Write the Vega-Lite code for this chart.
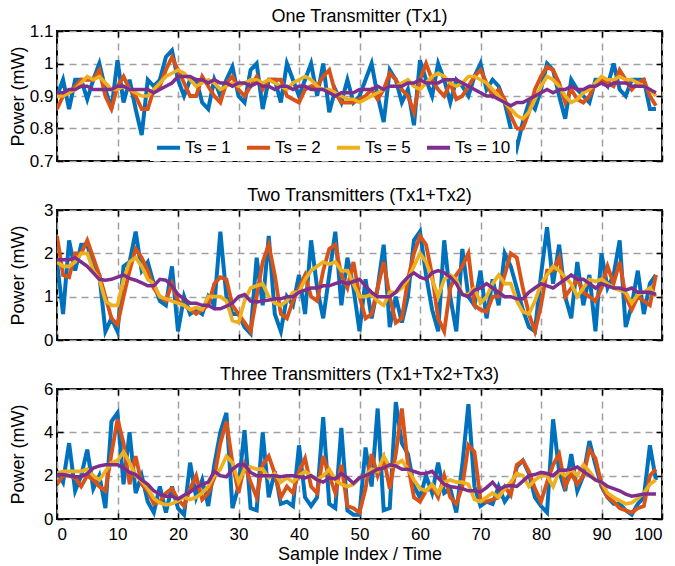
{
"$schema": "https://vega.github.io/schema/vega-lite/v6.json",
"padding": {"left": 7, "top": 7, "right": 0, "bottom": 0},
"config": {
  "font": "Liberation Sans",
  "view": {"stroke": "black", "strokeWidth": 2},
  "axis": {"domain": false, "tickColor": "black", "tickSize": -6, "tickWidth": 1.5, "labelFontSize": 17, "labelColor": "black", "titleFontSize": 18, "titleFontWeight": "normal", "titleColor": "black", "gridColor": "#a0a0a0", "gridDash": [7, 5], "gridWidth": 1.5, "labelPadding": 10},
  "title": {"fontSize": 18, "fontWeight": "normal", "offset": -4, "color": "black"},
  "concat": {"spacing": 16}
},
"datasets": {
"p1": [
{"x":0,"1":0.90,"2":0.86,"5":0.90,"10":0.91},
{"x":1,"1":0.95,"2":0.90,"5":0.90,"10":0.91},
{"x":2,"1":0.86,"2":0.91,"5":0.91,"10":0.92},
{"x":3,"1":0.95,"2":0.93,"5":0.92,"10":0.92},
{"x":4,"1":0.95,"2":0.95,"5":0.94,"10":0.93},
{"x":5,"1":0.89,"2":0.95,"5":0.96,"10":0.93},
{"x":6,"1":0.95,"2":0.95,"5":0.95,"10":0.92},
{"x":7,"1":1.00,"2":0.98,"5":0.96,"10":0.92},
{"x":8,"1":0.92,"2":0.90,"5":0.94,"10":0.92},
{"x":9,"1":0.86,"2":0.86,"5":0.92,"10":0.92},
{"x":10,"1":1.01,"2":0.93,"5":0.92,"10":0.93},
{"x":11,"1":0.88,"2":0.96,"5":0.93,"10":0.93},
{"x":12,"1":0.95,"2":0.92,"5":0.92,"10":0.92},
{"x":13,"1":0.86,"2":0.90,"5":0.91,"10":0.92},
{"x":14,"1":0.78,"2":0.86,"5":0.90,"10":0.92},
{"x":15,"1":0.95,"2":0.86,"5":0.90,"10":0.92},
{"x":16,"1":0.93,"2":0.92,"5":0.92,"10":0.91},
{"x":17,"1":0.95,"2":0.93,"5":0.94,"10":0.92},
{"x":18,"1":1.02,"2":0.98,"5":0.96,"10":0.93},
{"x":19,"1":1.04,"2":1.02,"5":0.97,"10":0.94},
{"x":20,"1":0.95,"2":0.98,"5":0.98,"10":0.96},
{"x":21,"1":0.90,"2":0.94,"5":0.97,"10":0.96},
{"x":22,"1":0.95,"2":0.90,"5":0.95,"10":0.96},
{"x":23,"1":0.95,"2":0.90,"5":0.93,"10":0.95},
{"x":24,"1":0.88,"2":0.96,"5":0.94,"10":0.95},
{"x":25,"1":0.86,"2":0.93,"5":0.95,"10":0.94},
{"x":26,"1":0.95,"2":0.90,"5":0.94,"10":0.95},
{"x":27,"1":0.90,"2":0.88,"5":0.92,"10":0.94},
{"x":28,"1":0.95,"2":0.94,"5":0.93,"10":0.94},
{"x":29,"1":0.99,"2":0.96,"5":0.94,"10":0.93},
{"x":30,"1":0.90,"2":0.92,"5":0.93,"10":0.94},
{"x":31,"1":0.88,"2":0.90,"5":0.94,"10":0.94},
{"x":32,"1":0.98,"2":0.93,"5":0.95,"10":0.93},
{"x":33,"1":1.00,"2":0.96,"5":0.95,"10":0.94},
{"x":34,"1":0.86,"2":0.92,"5":0.94,"10":0.93},
{"x":35,"1":0.95,"2":0.95,"5":0.95,"10":0.93},
{"x":36,"1":0.95,"2":0.95,"5":0.94,"10":0.92},
{"x":37,"1":0.88,"2":0.95,"5":0.93,"10":0.93},
{"x":38,"1":1.00,"2":0.90,"5":0.92,"10":0.93},
{"x":39,"1":0.95,"2":0.89,"5":0.94,"10":0.92},
{"x":40,"1":0.90,"2":0.88,"5":0.95,"10":0.93},
{"x":41,"1":0.95,"2":0.92,"5":0.96,"10":0.93},
{"x":42,"1":1.00,"2":0.93,"5":0.95,"10":0.92},
{"x":43,"1":0.90,"2":0.93,"5":0.93,"10":0.92},
{"x":44,"1":1.00,"2":0.96,"5":0.92,"10":0.92},
{"x":45,"1":0.85,"2":0.98,"5":0.92,"10":0.91},
{"x":46,"1":0.92,"2":0.91,"5":0.91,"10":0.90},
{"x":47,"1":0.88,"2":0.88,"5":0.90,"10":0.91},
{"x":48,"1":0.95,"2":0.88,"5":0.89,"10":0.91},
{"x":49,"1":0.88,"2":0.88,"5":0.89,"10":0.91},
{"x":50,"1":0.90,"2":0.89,"5":0.88,"10":0.92},
{"x":51,"1":0.95,"2":0.90,"5":0.89,"10":0.92},
{"x":52,"1":1.00,"2":0.92,"5":0.90,"10":0.92},
{"x":53,"1":0.90,"2":0.89,"5":0.91,"10":0.93},
{"x":54,"1":0.82,"2":0.92,"5":0.92,"10":0.92},
{"x":55,"1":0.98,"2":0.97,"5":0.93,"10":0.93},
{"x":56,"1":0.95,"2":0.95,"5":0.93,"10":0.93},
{"x":57,"1":0.88,"2":0.92,"5":0.94,"10":0.93},
{"x":58,"1":0.92,"2":0.90,"5":0.95,"10":0.94},
{"x":59,"1":0.81,"2":0.85,"5":0.93,"10":0.94},
{"x":60,"1":1.01,"2":0.95,"5":0.92,"10":0.95},
{"x":61,"1":0.95,"2":1.00,"5":0.94,"10":0.94},
{"x":62,"1":0.90,"2":0.95,"5":0.96,"10":0.94},
{"x":63,"1":1.00,"2":0.92,"5":0.97,"10":0.94},
{"x":64,"1":0.95,"2":0.90,"5":0.96,"10":0.95},
{"x":65,"1":0.88,"2":0.94,"5":0.94,"10":0.95},
{"x":66,"1":0.95,"2":0.89,"5":0.93,"10":0.95},
{"x":67,"1":0.93,"2":0.90,"5":0.94,"10":0.94},
{"x":68,"1":0.90,"2":0.93,"5":0.96,"10":0.93},
{"x":69,"1":0.96,"2":0.96,"5":0.96,"10":0.92},
{"x":70,"1":1.00,"2":0.98,"5":0.95,"10":0.91},
{"x":71,"1":0.92,"2":0.94,"5":0.94,"10":0.90},
{"x":72,"1":0.95,"2":0.90,"5":0.92,"10":0.90},
{"x":73,"1":0.93,"2":0.92,"5":0.90,"10":0.89},
{"x":74,"1":0.88,"2":0.89,"5":0.88,"10":0.88},
{"x":75,"1":0.80,"2":0.84,"5":0.86,"10":0.87},
{"x":76,"1":0.74,"2":0.80,"5":0.84,"10":0.88},
{"x":77,"1":0.82,"2":0.80,"5":0.83,"10":0.88},
{"x":78,"1":0.88,"2":0.85,"5":0.85,"10":0.89},
{"x":79,"1":0.86,"2":0.92,"5":0.89,"10":0.90},
{"x":80,"1":0.92,"2":0.96,"5":0.93,"10":0.91},
{"x":81,"1":1.00,"2":0.99,"5":0.96,"10":0.92},
{"x":82,"1":0.98,"2":0.98,"5":0.95,"10":0.91},
{"x":83,"1":0.90,"2":0.94,"5":0.93,"10":0.92},
{"x":84,"1":0.83,"2":0.88,"5":0.90,"10":0.92},
{"x":85,"1":0.95,"2":0.92,"5":0.88,"10":0.93},
{"x":86,"1":0.92,"2":0.89,"5":0.89,"10":0.92},
{"x":87,"1":0.90,"2":0.88,"5":0.91,"10":0.92},
{"x":88,"1":0.88,"2":0.90,"5":0.92,"10":0.93},
{"x":89,"1":0.95,"2":0.94,"5":0.94,"10":0.93},
{"x":90,"1":0.95,"2":0.95,"5":0.96,"10":0.94},
{"x":91,"1":0.93,"2":0.94,"5":0.95,"10":0.93},
{"x":92,"1":1.00,"2":0.93,"5":0.95,"10":0.94},
{"x":93,"1":0.92,"2":0.98,"5":0.96,"10":0.94},
{"x":94,"1":0.90,"2":0.95,"5":0.95,"10":0.94},
{"x":95,"1":0.95,"2":0.92,"5":0.95,"10":0.93},
{"x":96,"1":0.95,"2":0.94,"5":0.94,"10":0.93},
{"x":97,"1":0.95,"2":0.95,"5":0.93,"10":0.93},
{"x":98,"1":0.86,"2":0.90,"5":0.92,"10":0.92},
{"x":99,"1":0.86,"2":0.87,"5":0.90,"10":0.91}
],
"p2": [
{"x":0,"1":1.8,"2":2.4,"5":1.8,"10":1.85},
{"x":1,"1":0.6,"2":1.5,"5":1.7,"10":1.85},
{"x":2,"1":2.3,"2":1.45,"5":1.7,"10":1.85},
{"x":3,"1":1.6,"2":2.0,"5":1.8,"10":1.9},
{"x":4,"1":2.2,"2":2.0,"5":2.0,"10":1.8},
{"x":5,"1":2.2,"2":2.3,"5":2.0,"10":1.7},
{"x":6,"1":1.7,"2":1.9,"5":1.6,"10":1.55},
{"x":7,"1":1.5,"2":1.5,"5":1.4,"10":1.4},
{"x":8,"1":0.2,"2":1.0,"5":0.9,"10":1.38},
{"x":9,"1":0.5,"2":0.5,"5":0.8,"10":1.4},
{"x":10,"1":0.2,"2":0.35,"5":0.8,"10":1.45},
{"x":11,"1":1.7,"2":1.0,"5":1.4,"10":1.5},
{"x":12,"1":1.8,"2":1.6,"5":1.8,"10":1.42},
{"x":13,"1":2.5,"2":2.1,"5":1.9,"10":1.38},
{"x":14,"1":1.6,"2":1.9,"5":1.7,"10":1.32},
{"x":15,"1":1.8,"2":1.6,"5":1.4,"10":1.25},
{"x":16,"1":1.3,"2":1.2,"5":1.3,"10":1.25},
{"x":17,"1":0.9,"2":1.0,"5":1.0,"10":1.4},
{"x":18,"1":0.8,"2":0.9,"5":0.95,"10":1.38},
{"x":19,"1":1.7,"2":1.3,"5":0.9,"10":1.25},
{"x":20,"1":0.2,"2":0.9,"5":0.85,"10":1.05},
{"x":21,"1":1.0,"2":0.8,"5":0.8,"10":0.95},
{"x":22,"1":0.6,"2":0.7,"5":0.7,"10":0.85},
{"x":23,"1":0.7,"2":0.6,"5":0.75,"10":0.85},
{"x":24,"1":0.6,"2":0.7,"5":0.7,"10":0.8},
{"x":25,"1":1.0,"2":0.8,"5":1.0,"10":0.8},
{"x":26,"1":0.8,"2":1.3,"5":1.0,"10":0.72},
{"x":27,"1":2.5,"2":1.45,"5":1.0,"10":0.72},
{"x":28,"1":1.0,"2":1.4,"5":0.9,"10":0.78},
{"x":29,"1":0.6,"2":0.8,"5":0.45,"10":0.85},
{"x":30,"1":0.6,"2":0.6,"5":0.4,"10":1.0},
{"x":31,"1":0.3,"2":0.4,"5":0.9,"10":1.05},
{"x":32,"1":0.15,"2":0.2,"5":1.2,"10":0.9},
{"x":33,"1":1.9,"2":1.0,"5":1.25,"10":0.88},
{"x":34,"1":0.8,"2":1.8,"5":1.3,"10":0.9},
{"x":35,"1":2.4,"2":2.2,"5":1.0,"10":0.92},
{"x":36,"1":0.6,"2":1.5,"5":0.85,"10":0.95},
{"x":37,"1":0.2,"2":0.6,"5":0.8,"10":0.95},
{"x":38,"1":1.0,"2":0.5,"5":0.9,"10":1.0},
{"x":39,"1":0.8,"2":0.9,"5":1.1,"10":1.0},
{"x":40,"1":1.5,"2":1.2,"5":1.1,"10":1.1},
{"x":41,"1":0.6,"2":1.5,"5":1.4,"10":1.15},
{"x":42,"1":2.3,"2":1.0,"5":1.6,"10":1.2},
{"x":43,"1":1.2,"2":0.9,"5":1.7,"10":1.2},
{"x":44,"1":0.5,"2":1.6,"5":1.8,"10":1.25},
{"x":45,"1":1.5,"2":2.1,"5":1.75,"10":1.25},
{"x":46,"1":2.5,"2":2.2,"5":1.8,"10":1.3},
{"x":47,"1":0.8,"2":1.5,"5":1.6,"10":1.35},
{"x":48,"1":1.9,"2":1.2,"5":1.6,"10":1.3},
{"x":49,"1":1.2,"2":1.8,"5":1.3,"10":1.35},
{"x":50,"1":0.2,"2":1.0,"5":1.0,"10":1.4},
{"x":51,"1":1.4,"2":0.5,"5":1.0,"10":1.25},
{"x":52,"1":0.5,"2":0.6,"5":1.05,"10":1.1},
{"x":53,"1":1.2,"2":1.2,"5":0.9,"10":1.0},
{"x":54,"1":2.2,"2":1.8,"5":0.8,"10":1.0},
{"x":55,"1":0.3,"2":1.0,"5":1.1,"10":1.0},
{"x":56,"1":1.0,"2":0.4,"5":1.1,"10":1.1},
{"x":57,"1":0.4,"2":0.5,"5":1.2,"10":1.3},
{"x":58,"1":1.0,"2":1.4,"5":1.4,"10":1.45},
{"x":59,"1":2.3,"2":2.0,"5":1.7,"10":1.55},
{"x":60,"1":2.5,"2":2.4,"5":2.0,"10":1.45},
{"x":61,"1":1.5,"2":2.2,"5":1.8,"10":1.4},
{"x":62,"1":0.7,"2":1.5,"5":1.4,"10":1.55},
{"x":63,"1":0.2,"2":0.5,"5":1.0,"10":1.6},
{"x":64,"1":2.3,"2":0.2,"5":1.4,"10":1.55},
{"x":65,"1":1.0,"2":1.2,"5":1.5,"10":1.45},
{"x":66,"1":0.2,"2":1.5,"5":1.4,"10":1.3},
{"x":67,"1":2.1,"2":1.7,"5":1.05,"10":1.05},
{"x":68,"1":1.0,"2":2.0,"5":1.05,"10":1.0},
{"x":69,"1":0.8,"2":0.8,"5":1.2,"10":1.15},
{"x":70,"1":1.6,"2":0.7,"5":0.85,"10":1.2},
{"x":71,"1":0.5,"2":0.65,"5":1.0,"10":1.3},
{"x":72,"1":1.4,"2":1.0,"5":1.3,"10":1.2},
{"x":73,"1":0.8,"2":1.0,"5":1.5,"10":1.1},
{"x":74,"1":2.0,"2":1.5,"5":1.3,"10":1.0},
{"x":75,"1":1.7,"2":2.0,"5":1.3,"10":1.0},
{"x":76,"1":1.2,"2":1.9,"5":0.9,"10":0.95},
{"x":77,"1":0.7,"2":1.2,"5":0.65,"10":0.95},
{"x":78,"1":0.3,"2":0.6,"5":0.6,"10":1.1},
{"x":79,"1":0.2,"2":0.2,"5":0.9,"10":1.2},
{"x":80,"1":1.5,"2":0.8,"5":1.3,"10":1.3},
{"x":81,"1":2.6,"2":1.6,"5":1.5,"10":1.25},
{"x":82,"1":1.3,"2":1.6,"5":1.7,"10":1.2},
{"x":83,"1":2.2,"2":1.9,"5":1.6,"10":1.3},
{"x":84,"1":1.0,"2":1.0,"5":1.45,"10":1.4},
{"x":85,"1":0.5,"2":1.2,"5":1.3,"10":1.5},
{"x":86,"1":1.8,"2":1.4,"5":1.0,"10":1.4},
{"x":87,"1":0.8,"2":1.1,"5":1.2,"10":1.4},
{"x":88,"1":1.5,"2":1.0,"5":1.4,"10":1.3},
{"x":89,"1":0.2,"2":0.9,"5":1.35,"10":1.2},
{"x":90,"1":2.0,"2":1.2,"5":1.4,"10":1.3},
{"x":91,"1":1.2,"2":1.7,"5":1.3,"10":1.25},
{"x":92,"1":1.5,"2":1.3,"5":1.2,"10":1.2},
{"x":93,"1":2.3,"2":1.8,"5":1.15,"10":1.2},
{"x":94,"1":0.3,"2":1.0,"5":1.1,"10":1.15},
{"x":95,"1":0.8,"2":0.7,"5":0.85,"10":1.2},
{"x":96,"1":1.6,"2":1.0,"5":1.05,"10":1.1},
{"x":97,"1":0.6,"2":0.9,"5":1.1,"10":1.1},
{"x":98,"1":1.3,"2":0.8,"5":1.2,"10":1.1},
{"x":99,"1":1.5,"2":1.5,"5":1.0,"10":1.05}
],
"p3": [
{"x":0,"1":2.2,"2":1.6,"5":2.1,"10":2.05},
{"x":1,"1":1.7,"2":2.0,"5":2.2,"10":2.05},
{"x":2,"1":3.5,"2":2.0,"5":2.2,"10":2.0},
{"x":3,"1":1.3,"2":1.9,"5":2.2,"10":1.95},
{"x":4,"1":2.0,"2":1.5,"5":2.2,"10":1.95},
{"x":5,"1":3.2,"2":2.0,"5":2.3,"10":2.1},
{"x":6,"1":1.4,"2":1.8,"5":2.0,"10":2.35},
{"x":7,"1":2.0,"2":1.5,"5":1.8,"10":2.45},
{"x":8,"1":0.5,"2":1.3,"5":2.2,"10":2.5},
{"x":9,"1":4.5,"2":3.0,"5":2.6,"10":2.5},
{"x":10,"1":4.9,"2":4.6,"5":2.7,"10":2.5},
{"x":11,"1":1.6,"2":3.5,"5":3.1,"10":2.35},
{"x":12,"1":4.0,"2":1.6,"5":2.6,"10":2.15},
{"x":13,"1":1.2,"2":2.9,"5":2.0,"10":2.05},
{"x":14,"1":2.0,"2":1.6,"5":1.75,"10":1.8},
{"x":15,"1":0.8,"2":1.3,"5":1.4,"10":1.6},
{"x":16,"1":0.3,"2":0.7,"5":0.95,"10":1.3},
{"x":17,"1":1.5,"2":0.8,"5":0.75,"10":1.15},
{"x":18,"1":0.3,"2":1.2,"5":0.65,"10":1.05},
{"x":19,"1":1.5,"2":1.4,"5":0.7,"10":1.05},
{"x":20,"1":0.5,"2":0.9,"5":0.85,"10":0.92},
{"x":21,"1":0.2,"2":0.6,"5":1.0,"10":1.1},
{"x":22,"1":2.6,"2":1.4,"5":0.9,"10":1.25},
{"x":23,"1":1.0,"2":2.0,"5":1.0,"10":1.45},
{"x":24,"1":1.8,"2":0.9,"5":1.2,"10":1.6},
{"x":25,"1":0.6,"2":1.2,"5":1.5,"10":1.7},
{"x":26,"1":2.5,"2":1.9,"5":2.0,"10":2.2},
{"x":27,"1":4.0,"2":3.5,"5":2.3,"10":2.0},
{"x":28,"1":4.9,"2":4.5,"5":2.9,"10":1.95},
{"x":29,"1":0.5,"2":2.6,"5":2.6,"10":2.3},
{"x":30,"1":1.5,"2":1.2,"5":1.7,"10":2.5},
{"x":31,"1":4.1,"2":2.5,"5":2.3,"10":2.5},
{"x":32,"1":0.5,"2":1.7,"5":2.4,"10":2.15},
{"x":33,"1":0.4,"2":1.0,"5":2.3,"10":2.0},
{"x":34,"1":4.0,"2":2.5,"5":2.3,"10":2.0},
{"x":35,"1":1.0,"2":2.9,"5":1.9,"10":2.0},
{"x":36,"1":2.2,"2":2.1,"5":2.1,"10":2.0},
{"x":37,"1":0.7,"2":1.0,"5":1.7,"10":1.95},
{"x":38,"1":0.8,"2":1.5,"5":1.9,"10":2.0},
{"x":39,"1":0.6,"2":1.2,"5":1.7,"10":2.0},
{"x":40,"1":3.4,"2":2.2,"5":2.0,"10":1.95},
{"x":41,"1":1.0,"2":2.8,"5":2.2,"10":1.9},
{"x":42,"1":0.6,"2":1.5,"5":2.0,"10":2.0},
{"x":43,"1":1.0,"2":1.2,"5":1.8,"10":1.8},
{"x":44,"1":4.7,"2":2.9,"5":2.0,"10":1.7},
{"x":45,"1":0.7,"2":2.0,"5":2.3,"10":1.9},
{"x":46,"1":0.5,"2":1.2,"5":1.8,"10":1.85},
{"x":47,"1":4.2,"2":2.5,"5":1.6,"10":2.1},
{"x":48,"1":0.4,"2":0.6,"5":1.5,"10":1.9},
{"x":49,"1":0.2,"2":0.5,"5":1.6,"10":1.65},
{"x":50,"1":0.2,"2":0.3,"5":1.9,"10":1.9},
{"x":51,"1":3.3,"2":1.4,"5":2.0,"10":2.0},
{"x":52,"1":1.5,"2":3.0,"5":2.3,"10":2.15},
{"x":53,"1":5.1,"2":2.0,"5":2.2,"10":2.3},
{"x":54,"1":0.4,"2":2.8,"5":2.9,"10":2.35},
{"x":55,"1":0.5,"2":1.4,"5":2.4,"10":2.5},
{"x":56,"1":5.4,"2":3.0,"5":2.5,"10":2.45},
{"x":57,"1":3.5,"2":5.1,"5":2.7,"10":2.3},
{"x":58,"1":3.0,"2":2.5,"5":2.3,"10":2.3},
{"x":59,"1":1.5,"2":1.0,"5":1.8,"10":2.2},
{"x":60,"1":1.0,"2":0.8,"5":1.4,"10":2.1},
{"x":61,"1":2.0,"2":1.3,"5":1.3,"10":2.1},
{"x":62,"1":1.2,"2":1.5,"5":1.6,"10":2.2},
{"x":63,"1":2.6,"2":1.0,"5":1.2,"10":1.9},
{"x":64,"1":1.2,"2":2.0,"5":1.7,"10":1.6},
{"x":65,"1":1.4,"2":1.0,"5":1.8,"10":1.5},
{"x":66,"1":0.3,"2":0.7,"5":1.7,"10":1.45},
{"x":67,"1":2.5,"2":1.5,"5":1.7,"10":1.4},
{"x":68,"1":5.3,"2":3.4,"5":1.6,"10":1.3},
{"x":69,"1":1.5,"2":3.1,"5":0.9,"10":1.3},
{"x":70,"1":0.6,"2":0.9,"5":0.8,"10":1.25},
{"x":71,"1":0.8,"2":0.8,"5":1.0,"10":1.45},
{"x":72,"1":0.7,"2":0.9,"5":1.2,"10":1.7},
{"x":73,"1":1.5,"2":1.0,"5":1.0,"10":1.35},
{"x":74,"1":0.8,"2":1.5,"5":1.4,"10":1.5},
{"x":75,"1":1.2,"2":1.1,"5":1.7,"10":1.55},
{"x":76,"1":2.4,"2":2.5,"5":2.1,"10":1.5},
{"x":77,"1":2.7,"2":2.7,"5":2.0,"10":1.75},
{"x":78,"1":2.1,"2":2.2,"5":1.5,"10":2.0},
{"x":79,"1":1.0,"2":1.4,"5":1.8,"10":2.05},
{"x":80,"1":0.6,"2":0.8,"5":2.0,"10":2.15},
{"x":81,"1":0.3,"2":1.7,"5":2.0,"10":2.1},
{"x":82,"1":4.6,"2":2.5,"5":1.5,"10":2.0},
{"x":83,"1":2.2,"2":3.0,"5":2.2,"10":2.25},
{"x":84,"1":1.3,"2":1.5,"5":2.0,"10":2.25},
{"x":85,"1":3.0,"2":2.1,"5":2.3,"10":2.3},
{"x":86,"1":1.3,"2":1.6,"5":2.0,"10":2.4},
{"x":87,"1":2.0,"2":2.0,"5":2.5,"10":2.2},
{"x":88,"1":3.6,"2":3.2,"5":2.2,"10":2.0},
{"x":89,"1":2.5,"2":2.8,"5":1.8,"10":1.8},
{"x":90,"1":1.5,"2":1.6,"5":1.7,"10":1.7},
{"x":91,"1":1.0,"2":1.0,"5":1.2,"10":1.5},
{"x":92,"1":0.7,"2":0.8,"5":1.0,"10":1.4},
{"x":93,"1":0.7,"2":0.5,"5":0.85,"10":1.3},
{"x":94,"1":0.4,"2":0.4,"5":0.7,"10":1.15},
{"x":95,"1":0.2,"2":0.3,"5":0.75,"10":1.05},
{"x":96,"1":0.7,"2":0.5,"5":0.95,"10":1.1},
{"x":97,"1":1.0,"2":0.6,"5":1.2,"10":1.15},
{"x":98,"1":3.4,"2":2.0,"5":1.6,"10":1.15},
{"x":99,"1":1.8,"2":2.3,"5":1.8,"10":1.15}
]
},
"resolve": {"scale": {"x": "independent", "y": "independent", "color": "shared", "strokeWidth": "shared"}, "legend": {"color": "independent"}},
"vconcat": [
{
  "title": "One Transmitter (Tx1)",
  "width": 605, "height": 130,
  "data": {"name": "p1"},
  "transform": [{"fold": ["1", "2", "5", "10"], "as": ["ts", "power"]}],
  "resolve": {"scale": {"x": "independent", "y": "independent"}},
  "layer": [
    {"mark": {"type": "line", "clip": true},
     "encoding": {
      "x": {"field": "x", "type": "quantitative", "scale": {"domain": [0, 100], "nice": false}, "axis": {"orient": "bottom", "values": [0,10,20,30,40,50,60,70,80,90,100], "labels": false, "title": null}},
      "y": {"field": "power", "type": "quantitative", "scale": {"domain": [0.7, 1.1], "nice": false, "zero": false}, "axis": {"orient": "left", "values": [0.7,0.8,0.9,1,1.1], "format": "~g", "title": "Power (mW)", "titleX": -30}},
      "color": {"field": "ts", "type": "nominal", "sort": ["1","2","5","10"], "scale": {"domain": ["1","2","5","10"], "range": ["#0072BD", "#D95319", "#EDB120", "#7E2F8E"]},
        "legend": {"title": null, "orient": "none", "legendX": 93, "legendY": 98, "direction": "horizontal", "columns": 4, "symbolType": "stroke", "symbolSize": 529, "symbolStrokeWidth": 4, "labelFontSize": 17, "labelColor": "black", "labelExpr": "'Ts = ' + datum.label", "fillColor": "white", "padding": 5, "columnPadding": 8, "labelOffset": 3}},
      "strokeWidth": {"field": "ts", "type": "nominal", "scale": {"domain": ["1","2","5","10"], "range": [4, 3.5, 3.5, 3.5]}, "legend": null}
     }},
    {"mark": {"type": "line", "strokeOpacity": 0},
     "encoding": {
      "x": {"field": "x", "type": "quantitative", "scale": {"domain": [0, 100], "nice": false}, "axis": {"orient": "top", "values": [0,10,20,30,40,50,60,70,80,90,100], "labels": false, "grid": false, "title": null}},
      "y": {"field": "power", "type": "quantitative", "scale": {"domain": [0.7, 1.1], "nice": false, "zero": false}, "axis": {"orient": "right", "values": [0.7,0.8,0.9,1,1.1], "labels": false, "grid": false, "title": null}},
      "detail": {"field": "ts"}
     }}
  ]
},
{
  "title": "Two Transmitters (Tx1+Tx2)",
  "width": 605, "height": 130,
  "data": {"name": "p2"},
  "transform": [{"fold": ["1", "2", "5", "10"], "as": ["ts", "power"]}],
  "resolve": {"scale": {"x": "independent", "y": "independent"}},
  "layer": [
    {"mark": {"type": "line", "clip": true},
     "encoding": {
      "x": {"field": "x", "type": "quantitative", "scale": {"domain": [0, 100], "nice": false}, "axis": {"orient": "bottom", "values": [0,10,20,30,40,50,60,70,80,90,100], "labels": false, "title": null}},
      "y": {"field": "power", "type": "quantitative", "scale": {"domain": [0, 3], "nice": false}, "axis": {"orient": "left", "values": [0,1,2,3], "format": "~g", "title": "Power (mW)", "titleX": -30}},
      "color": {"field": "ts", "type": "nominal", "sort": ["1","2","5","10"], "scale": {"domain": ["1","2","5","10"], "range": ["#0072BD", "#D95319", "#EDB120", "#7E2F8E"]}, "legend": null},
      "strokeWidth": {"field": "ts", "type": "nominal", "scale": {"domain": ["1","2","5","10"], "range": [4, 3.5, 3.5, 3.5]}, "legend": null}
     }},
    {"mark": {"type": "line", "strokeOpacity": 0},
     "encoding": {
      "x": {"field": "x", "type": "quantitative", "scale": {"domain": [0, 100], "nice": false}, "axis": {"orient": "top", "values": [0,10,20,30,40,50,60,70,80,90,100], "labels": false, "grid": false, "title": null}},
      "y": {"field": "power", "type": "quantitative", "scale": {"domain": [0, 3], "nice": false}, "axis": {"orient": "right", "values": [0,1,2,3], "labels": false, "grid": false, "title": null}},
      "detail": {"field": "ts"}
     }}
  ]
},
{
  "title": "Three Transmitters (Tx1+Tx2+Tx3)",
  "width": 605, "height": 130,
  "data": {"name": "p3"},
  "transform": [{"fold": ["1", "2", "5", "10"], "as": ["ts", "power"]}],
  "resolve": {"scale": {"x": "independent", "y": "independent"}},
  "layer": [
    {"mark": {"type": "line", "clip": true},
     "encoding": {
      "x": {"field": "x", "type": "quantitative", "scale": {"domain": [0, 100], "nice": false}, "axis": {"orient": "bottom", "values": [0,10,20,30,40,50,60,70,80,90,100], "title": "Sample Index / Time", "titlePadding": 3, "labelPadding": 13}},
      "y": {"field": "power", "type": "quantitative", "scale": {"domain": [0, 6], "nice": false}, "axis": {"orient": "left", "values": [0,2,4,6], "format": "~g", "title": "Power (mW)", "titleX": -30}},
      "color": {"field": "ts", "type": "nominal", "sort": ["1","2","5","10"], "scale": {"domain": ["1","2","5","10"], "range": ["#0072BD", "#D95319", "#EDB120", "#7E2F8E"]}, "legend": null},
      "strokeWidth": {"field": "ts", "type": "nominal", "scale": {"domain": ["1","2","5","10"], "range": [4, 3.5, 3.5, 3.5]}, "legend": null}
     }},
    {"mark": {"type": "line", "strokeOpacity": 0},
     "encoding": {
      "x": {"field": "x", "type": "quantitative", "scale": {"domain": [0, 100], "nice": false}, "axis": {"orient": "top", "values": [0,10,20,30,40,50,60,70,80,90,100], "labels": false, "grid": false, "title": null}},
      "y": {"field": "power", "type": "quantitative", "scale": {"domain": [0, 6], "nice": false}, "axis": {"orient": "right", "values": [0,2,4,6], "labels": false, "grid": false, "title": null}},
      "detail": {"field": "ts"}
     }}
  ]
}
]
}
